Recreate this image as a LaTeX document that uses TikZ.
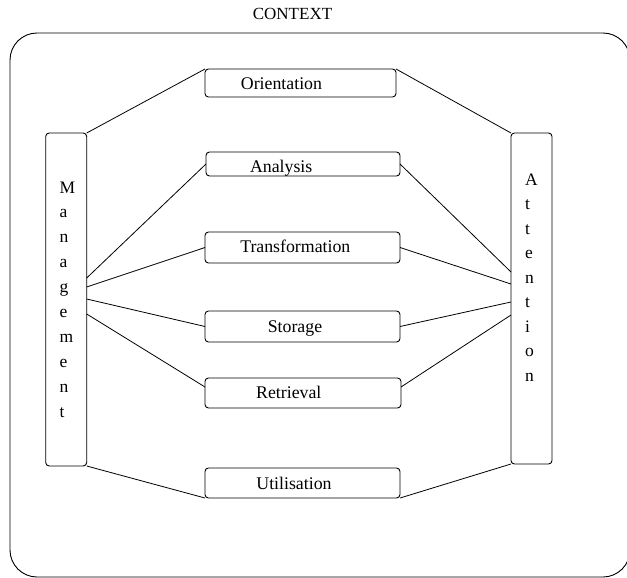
\documentclass[tikz,border=0pt]{standalone}
\usepackage{fontspec}
\setmainfont{Liberation Serif}
\newfontfamily\tnrfont{Liberation Serif}
\usetikzlibrary{calc}
\begin{document}
\begin{tikzpicture}[x=1pt,y=-1pt,
  box/.style={draw, rounded corners=3.5pt, inner sep=0pt, outer sep=0pt, line width=0.9pt},
  lbl/.style={anchor=base, inner sep=0pt, font=\tnrfont\fontsize{17.8}{20}\selectfont},
  letter/.style={anchor=base west, inner sep=0pt, font=\tnrfont\fontsize{17.5}{20}\selectfont},
  conn/.style={line width=0.8pt},
  frame/.style={draw, line width=0.9pt, rounded corners=27pt}]
\useasboundingbox (0,0) rectangle (627,578);
% outer context frame
\node[lbl, font=\tnrfont\fontsize{17}{20}\selectfont] (ctx) at (292.5,20) {CONTEXT};
\draw[frame] (10,33) rectangle (630,577);
% side boxes
\node[box, minimum width=41pt, minimum height=333pt] (m) at (66.2,299.5) {};
\node[box, minimum width=41pt, minimum height=331pt] (a) at (531.5,298.5) {};
\foreach \l [count=\i from 0] in {M,a,n,a,g,e,m,e,n,t}
  \node[letter] (ml\i) at (59.5,193+24.9*\i) {\l};
\foreach \l [count=\i from 0] in {A,t,t,e,n,t,i,o,n}
  \node[letter] (al\i) at (525,185+24.5*\i) {\l};
% middle boxes
\node[box, minimum width=191pt, minimum height=28pt] (or) at (300.5,83) {};
\node[box, minimum width=194pt, minimum height=24pt] (an) at (303,164) {};
\node[box, minimum width=195pt, minimum height=31pt] (tr) at (302.5,247.5) {};
\node[box, minimum width=195pt, minimum height=31pt] (st) at (302.5,326.5) {};
\node[box, minimum width=196pt, minimum height=30pt] (re) at (303,393) {};
\node[box, minimum width=195pt, minimum height=30pt] (ut) at (302.5,483) {};
\node[lbl] (tor) at (281.5,89.5) {Orientation};
\node[lbl] (tan) at (281.2,172) {Analysis};
\node[lbl] (ttr) at (295.3,252) {Transformation};
\node[lbl] (tst) at (295,332) {Storage};
\node[lbl] (tre) at (288.8,398) {Retrieval};
\node[lbl] (tut) at (294,489) {Utilisation};
% attachment points on the side boxes
\coordinate (m-an) at (86.7,278);
\coordinate (m-tr) at (86.7,287);
\coordinate (m-st) at (86.7,299);
\coordinate (m-re) at (86.7,314);
\coordinate (a-an) at (511,272);
\coordinate (a-tr) at (511,284);
\coordinate (a-st) at (511,302);
\coordinate (a-re) at (511,315);
% connectors
\draw[conn] (m.north east) -- (or.north west);
\draw[conn] (or.north east) -- (a.north west);
\draw[conn] (m-an) -- (an.west);
\draw[conn] (an.east) -- (a-an);
\draw[conn] (m-tr) -- (tr.west);
\draw[conn] (tr.east) -- (a-tr);
\draw[conn] (m-st) -- (st.west);
\draw[conn] (st.east) -- (a-st);
\draw[conn] (m-re) -- ([yshift=6pt]re.west);
\draw[conn] ([yshift=6pt]re.east) -- (a-re);
\draw[conn] (m.south east) -- (ut.south west);
\draw[conn] (ut.south east) -- (a.south west);
\end{tikzpicture}
\end{document}
